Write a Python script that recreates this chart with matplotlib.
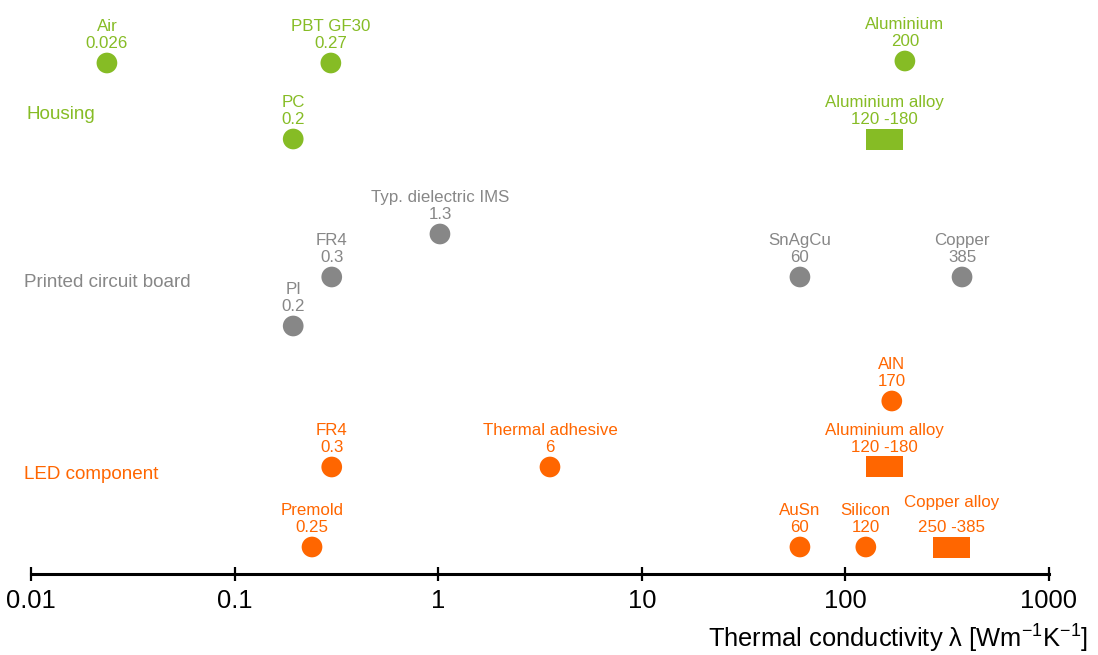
import numpy as np
import matplotlib.pyplot as plt
from matplotlib.transforms import blended_transform_factory

plt.rcParams['font.family'] = ['Liberation Sans', 'DejaVu Sans']
plt.rcParams['mathtext.fontset'] = 'custom'
plt.rcParams['mathtext.rm'] = 'Liberation Sans'
plt.rcParams['mathtext.default'] = 'regular'

green = '#86BC25'
gray = '#878787'
orange = '#FF6600'

# rows: y position counted in pixels from the top, axis line at 574
# Housing
h_names = ['Air', 'PBT GF30', 'Aluminium', 'PC']
h_vals = ['0.026', '0.27', '200', '0.2']
h_x = [0.0236, 0.297, 196, 0.194]
h_y = [63, 63, 61, 139]
h_rng_names = ['Aluminium alloy']
h_rng_vals = ['120 -180']
h_rng_lo = [126]
h_rng_hi = [192]
h_rng_y = [139.5]

# Printed circuit board
p_names = ['Typ. dielectric IMS', 'FR4', 'SnAgCu', 'Copper', 'PI']
p_vals = ['1.3', '0.3', '60', '385', '0.2']
p_x = [1.02, 0.30, 59.8, 374, 0.194]
p_y = [234, 277, 277, 277, 326]

# LED component
l_names = ['AlN', 'FR4', 'Thermal adhesive', 'Premold', 'AuSn', 'Silicon']
l_vals = ['170', '0.3', '6', '0.25', '60', '120']
l_x = [169, 0.30, 3.54, 0.24, 59.8, 126]
l_y = [401, 467, 467, 547, 547, 547]
l_rng_names = ['Aluminium alloy', 'Copper alloy']
l_rng_vals = ['120 -180', '250 -385']
l_rng_lo = [126, 269]
l_rng_hi = [192, 409]
l_rng_y = [466.5, 547]

groups = ['Housing', 'Printed circuit board', 'LED component']
group_y = [119, 287, 479]
group_colors = [green, gray, orange]

fig = plt.figure(figsize=(10.98, 6.55), dpi=100)
ax = fig.add_axes([31 / 1098, 81 / 655, 1018 / 1098, 574 / 655])
ax.set_xscale('log')
ax.set_xlim(0.01, 1000)
ax.set_ylim(574, 0)


def label(x, y, name, val, color, gap=17):
    ax.annotate(val, (x, y), xytext=(0, 15), textcoords='offset pixels',
                ha='center', va='baseline', fontsize=12.2, color=color, annotation_clip=False)
    ax.annotate(name, (x, y), xytext=(0, 15 + gap), textcoords='offset pixels',
                ha='center', va='baseline', fontsize=12.2, color=color, annotation_clip=False)


def points(xs, ys, names, vals, color):
    ax.scatter(xs, ys, s=222, color=color, edgecolors='none', zorder=3, clip_on=False)
    for x, y, n, v in zip(xs, ys, names, vals):
        label(x, y, n, v, color)


def ranges(lo, hi, ys, names, vals, color):
    lo = np.array(lo)
    hi = np.array(hi)
    ax.barh(ys, hi - lo, left=lo, height=21, color=color, zorder=3)
    for a, b, y, n, v in zip(lo, hi, ys, names, vals):
        gap = 25 if n == 'Copper alloy' else 17
        label(np.sqrt(a * b), y, n, v, color, gap)


points(h_x, h_y, h_names, h_vals, green)
ranges(h_rng_lo, h_rng_hi, h_rng_y, h_rng_names, h_rng_vals, green)
points(p_x, p_y, p_names, p_vals, gray)
points(l_x, l_y, l_names, l_vals, orange)
ranges(l_rng_lo, l_rng_hi, l_rng_y, l_rng_names, l_rng_vals, orange)

tr = blended_transform_factory(fig.transFigure, ax.transData)
for g, gy, c, gx in zip(groups, group_y, group_colors, [27, 24, 24]):
    ax.text(gx / 1098, gy, g, transform=tr, fontsize=13.6, color=c, va='baseline', ha='left')

for s in ['left', 'right', 'top']:
    ax.spines[s].set_visible(False)
ax.spines['bottom'].set_linewidth(2.2)
ax.set_yticks([])
ax.minorticks_off()
ticks = [0.01, 0.1, 1, 10, 100, 1000]
ax.set_xticks(ticks)
ax.set_xticklabels(['0.01', '0.1', '1', '10', '100', '1000'])
ax.tick_params(axis='x', direction='inout', length=10, width=1.6, labelsize=18.4, pad=6)

fig.text(1088 / 1098, 7 / 655, r'Thermal conductivity λ [Wm$^{-1}$K$^{-1}$]',
         ha='right', va='baseline', fontsize=18.4)

fig.savefig('out.png', dpi=100)
